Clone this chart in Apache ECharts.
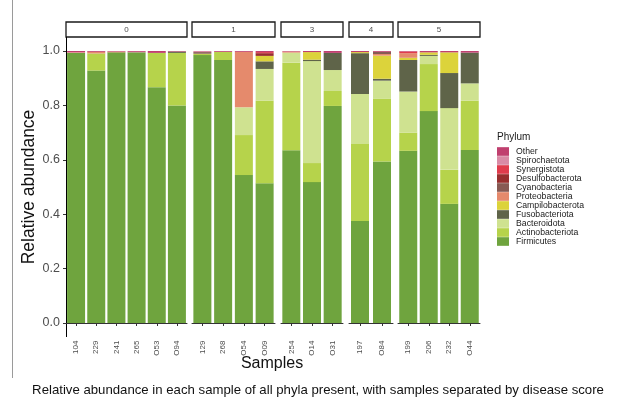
<!DOCTYPE html>
<html>
<head>
<meta charset="utf-8">
<script src="https://cdn.jsdelivr.net/npm/echarts@6/dist/echarts.min.js"></script>
<style>
  html, body { margin: 0; padding: 0; background: #ffffff; }
  #chart { width: 633px; height: 404px; }
</style>
</head>
<body>
<div id="chart"></div>
<script>
// Disease score facets and the samples in each
const scores = ['0', '1', '3', '4', '5'];
const samples = [
  ['104', '229', '241', '265', 'O53', 'O94'],
  ['129', '268', 'O54', 'O09'],
  ['254', 'O14', 'O31'],
  ['197', 'O84'],
  ['199', '206', '232', 'O44']
];

// Relative abundance of each phylum, one value per sample in the order above
//                       104   229   241   265   O53   O94   129   268   O54   O09   254   O14   O31   197   O84   199   206   232   O44
const firmicutes       = [.993, .928, .995, .995, .867, .800, .985, .967, .544, .514, .635, .518, .798, .375, .594, .633, .779, .438, .636];
const actinobacteriota = [0,    .063, 0,    0,    .126, .193, .005, .030, .147, .303, .322, .070, .055, .283, .231, .067, .173, .125, .181];
const bacteroidota     = [0,    0,    0,    0,    0,    0,    0,    0,    .102, .117, .037, .375, .077, .184, .066, .151, .030, .227, .064];
const fusobacteriota   = [0,    0,    0,    0,    0,    .005, 0,    0,    0,    .028, 0,    .005, .063, .150, .007, .116, .004, .129, .113];
const campilobacterota = [0,    0,    0,    0,    0,    0,    0,    0,    0,    .020, 0,    .028, 0,    .004, .085, .008, .009, .076, 0];
const proteobacteria   = [.002, .006, .003, 0,    0,    0,    0,    0,    .204, 0,    .004, 0,    0,    0,    .006, .017, 0,    0,    0];
const cyanobacteria    = [0,    0,    0,    0,    0,    0,    .006, 0,    0,    0,    0,    0,    0,    0,    .008, 0,    0,    0,    0];
const desulfobacterota = [0,    0,    0,    0,    0,    0,    0,    0,    0,    .010, 0,    0,    0,    0,    0,    0,    0,    0,    0];
const synergistota     = [0,    0,    0,    0,    0,    0,    0,    0,    0,    .004, 0,    0,    0,    0,    0,    .006, 0,    0,    0];
const spirochaetota    = [0,    0,    0,    .002, 0,    0,    .004, 0,    0,    0,    0,    0,    0,    0,    0,    0,    0,    0,    0];
const other            = [.005, .003, .002, .003, .007, .002, 0,    .003, .003, .004, .002, .004, .007, .004, .003, .002, .005, .005, .006];

// Stacking order, bottom to top
const phyla = ['Firmicutes', 'Actinobacteriota', 'Bacteroidota', 'Fusobacteriota', 'Campilobacterota',
  'Proteobacteria', 'Cyanobacteria', 'Desulfobacterota', 'Synergistota', 'Spirochaetota', 'Other'];
const phylumValues = [firmicutes, actinobacteriota, bacteroidota, fusobacteriota, campilobacterota,
  proteobacteria, cyanobacteria, desulfobacterota, synergistota, spirochaetota, other];
const phylumColors = ['#6fa43e', '#b6d34b', '#cfe290', '#5f6449', '#dcd33b',
  '#e58a6c', '#875a53', '#982f2e', '#e03c4c', '#d98ba6', '#c0406f'];

const yTicks = [0, 0.2, 0.4, 0.6, 0.8, 1.0];

// Panel layout (pixels)
const panelEdges = [[66, 187], [192, 275], [281, 343], [349, 393], [398, 480]];
const plotTop = 37.4, plotBottom = 336.6;
const stripTop = 22, stripH = 15;
const FONT = '"Liberation Sans", Arial, Helvetica, sans-serif';

const grids = [], xAxes = [], yAxes = [], series = [], graphics = [];
let offset = 0;
scores.forEach((score, p) => {
  const [x0, x1] = panelEdges[p];
  const n = samples[p].length;
  grids.push({ left: x0, width: x1 - x0, top: plotTop, height: plotBottom - plotTop, containLabel: false });
  xAxes.push({
    type: 'category', gridIndex: p, data: samples[p],
    axisLine: { show: true, lineStyle: { color: '#333333', width: 1 } },
    axisTick: { show: true, length: 3, alignWithLabel: true, lineStyle: { color: '#333333' } },
    axisLabel: { rotate: 90, interval: 0, fontSize: 8, color: '#4d4d4d', margin: 4, fontFamily: FONT },
    splitLine: { show: false }
  });
  yAxes.push({
    type: 'value', gridIndex: p, min: -0.05, max: 1.05,
    show: p === 0,
    axisLine: { show: p === 0, lineStyle: { color: '#000000', width: 1 } },
    axisTick: { show: p === 0, length: 3, customValues: yTicks, lineStyle: { color: '#333333' } },
    axisLabel: {
      show: p === 0, customValues: yTicks, fontSize: 12.5, color: '#4d4d4d', margin: 6, fontFamily: FONT,
      formatter: v => v.toFixed(1)
    },
    splitLine: { show: false },
    name: p === 0 ? 'Relative abundance' : '',
    nameLocation: 'middle', nameGap: 28,
    nameTextStyle: { fontSize: 17.5, color: '#111111', fontFamily: FONT }
  });
  phyla.forEach((ph, k) => {
    series.push({
      type: 'bar', name: ph, xAxisIndex: p, yAxisIndex: p, stack: 'score' + score,
      barWidth: 18, data: phylumValues[k].slice(offset, offset + n),
      itemStyle: { color: phylumColors[k] }, emphasis: { disabled: true }, animation: false
    });
  });
  offset += n;

  // facet strip
  graphics.push({
    type: 'rect', shape: { x: x0, y: stripTop, width: x1 - x0, height: stripH },
    style: { fill: '#ffffff', stroke: '#1a1a1a', lineWidth: 1.3 }
  });
  graphics.push({
    type: 'text', x: (x0 + x1) / 2, y: stripTop + stripH / 2 + 0.5,
    style: { text: score, fontSize: 8, fill: '#4d4d4d', fontFamily: FONT, align: 'center', verticalAlign: 'middle' }
  });
});

// legend title, axis title, caption, frame edge
graphics.push({ type: 'text', x: 497, y: 137, style: { text: 'Phylum', fontSize: 10, fill: '#1a1a1a', fontFamily: FONT, align: 'left', verticalAlign: 'middle' } });
graphics.push({ type: 'text', x: 272, y: 364, style: { text: 'Samples', fontSize: 16, fill: '#111111', fontFamily: FONT, align: 'center', verticalAlign: 'middle' } });
graphics.push({ type: 'text', x: 318, y: 390, style: { text: 'Relative abundance in each sample of all phyla present, with samples separated by disease score', fontSize: 13.2, fill: '#111111', fontFamily: FONT, align: 'center', verticalAlign: 'middle' } });
graphics.push({ type: 'line', shape: { x1: 12.5, y1: 0, x2: 12.5, y2: 378 }, style: { stroke: '#9a9a9a', lineWidth: 1 } });

const chart = echarts.init(document.getElementById('chart'), null, { renderer: 'canvas' });
chart.setOption({
  animation: false,
  backgroundColor: '#ffffff',
  grid: grids,
  xAxis: xAxes,
  yAxis: yAxes,
  series: series,
  legend: {
    data: phyla.slice().reverse(),
    orient: 'vertical', left: 497, top: 147, padding: 0,
    itemWidth: 12, itemHeight: 8.65, itemGap: 0, icon: 'rect', selectedMode: false,
    textStyle: { fontSize: 8.7, lineHeight: 8.65, color: '#1a1a1a', fontFamily: FONT, padding: [0, 0, 0, 2] }
  },
  graphic: graphics
});
</script>
</body>
</html>
